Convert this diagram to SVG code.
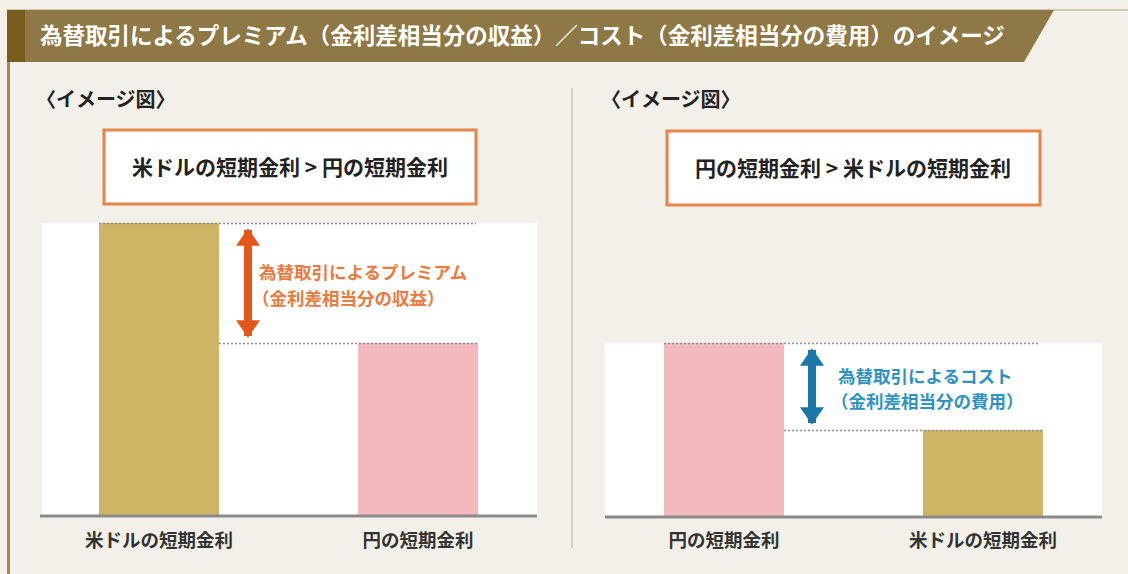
<svg xmlns="http://www.w3.org/2000/svg" width="1128" height="574" viewBox="0 0 1128 574">
<style>
text{font-family:"Noto Sans CJK JP","Noto Sans",sans-serif;font-weight:bold}
.title{fill:#ffffff;font-size:22.5px}
.sub{fill:#222;font-size:20px}
.box{fill:#ffffff;stroke:#e8834a;stroke-width:3}
.boxt{fill:#222;font-size:21px;text-anchor:middle}
.lbl{fill:#333;font-size:18.5px;text-anchor:middle}
.gold{fill:#cdb565}
.pink{fill:#f3b9bd}
.chart{fill:#ffffff}
.axis{stroke:#8a8a8a;stroke-width:3}
.dot{stroke:#8a8f98;stroke-width:1.5;stroke-dasharray:2 2;fill:none}
.ot{fill:#ea7a3e;font-size:17.5px}
.bt{fill:#2e92c2;font-size:17.5px}
</style>
<defs>
<marker id="ah-o" viewBox="0 0 10 10" refX="9" refY="5" markerWidth="2.2" markerHeight="3" preserveAspectRatio="none" orient="auto-start-reverse" markerUnits="strokeWidth"><path d="M0,0 L10,5 L0,10 Z" fill="#e4571b"/></marker>
<marker id="ah-b" viewBox="0 0 10 10" refX="9" refY="5" markerWidth="2.2" markerHeight="3" preserveAspectRatio="none" orient="auto-start-reverse" markerUnits="strokeWidth"><path d="M0,0 L10,5 L0,10 Z" fill="#1a77a8"/></marker>
</defs>
<rect x="0" y="0" width="1128" height="574" fill="#f2f0e8"/>
<g id="header">
<line x1="7" y1="10" x2="1128" y2="10" stroke="#cfc8b4" stroke-width="2"/>
<polygon points="7,10 1054,10 1024,62 7,62" fill="#8e7846"/>
<rect x="7" y="10" width="18" height="52" fill="#7a5d1c"/>
<rect x="7" y="62" width="3" height="512" fill="#a68a45"/>
<text class="title" x="40" y="44">為替取引によるプレミアム（金利差相当分の収益）／コスト（金利差相当分の費用）のイメージ</text>
</g>
<line x1="572" y1="88" x2="572" y2="548" stroke="#d2d0ca" stroke-width="2"/>
<g id="left-panel">
<text class="sub" x="36" y="107">〈イメージ図〉</text>
<g id="left-box"><rect class="box" x="104" y="130" width="372" height="74"/><text class="boxt" x="290" y="175">米ドルの短期金利 &gt; 円の短期金利</text></g>
<rect class="chart" x="42" y="223" width="495" height="293"/>
<g id="left-usd"><rect class="gold" x="99" y="223" width="120" height="293"/><text class="lbl" x="159" y="547">米ドルの短期金利</text></g>
<g id="left-jpy"><rect class="pink" x="358" y="343" width="120" height="173"/><text class="lbl" x="418" y="547">円の短期金利</text></g>
<g id="left-note"><text class="ot" x="259" y="279">為替取引によるプレミアム</text><text class="ot" x="252" y="305">（金利差相当分の収益）</text></g>
<line class="axis" x1="40" y1="516" x2="537" y2="516"/>
</g>
<g id="right-panel">
<text class="sub" x="601" y="107">〈イメージ図〉</text>
<g id="right-box"><rect class="box" x="667" y="131" width="373" height="74"/><text class="boxt" x="853" y="176">円の短期金利 &gt; 米ドルの短期金利</text></g>
<rect class="chart" x="605" y="343" width="497" height="174"/>
<g id="right-jpy"><rect class="pink" x="664" y="343" width="120" height="174"/><text class="lbl" x="724" y="547">円の短期金利</text></g>
<g id="right-usd"><rect class="gold" x="923" y="430" width="120" height="87"/><text class="lbl" x="983" y="547">米ドルの短期金利</text></g>
<g id="right-note"><text class="bt" x="838" y="383">為替取引によるコスト</text><text class="bt" x="831" y="408">（金利差相当分の費用）</text></g>
<line class="axis" x1="605" y1="517" x2="1102" y2="517"/>
</g>
<g id="connectors">
<line class="dot" x1="99" y1="223.5" x2="476" y2="223.5"/>
<line class="dot" x1="219" y1="343.5" x2="478" y2="343.5"/>
<line class="dot" x1="664" y1="343.5" x2="1040" y2="343.5"/>
<line class="dot" x1="784" y1="430.5" x2="1043" y2="430.5"/>
<line x1="248" y1="230" x2="248" y2="336" stroke="#e4571b" stroke-width="8" marker-start="url(#ah-o)" marker-end="url(#ah-o)"/>
<line x1="812" y1="350" x2="812" y2="423" stroke="#1a77a8" stroke-width="8" marker-start="url(#ah-b)" marker-end="url(#ah-b)"/>
</g>
</svg>
